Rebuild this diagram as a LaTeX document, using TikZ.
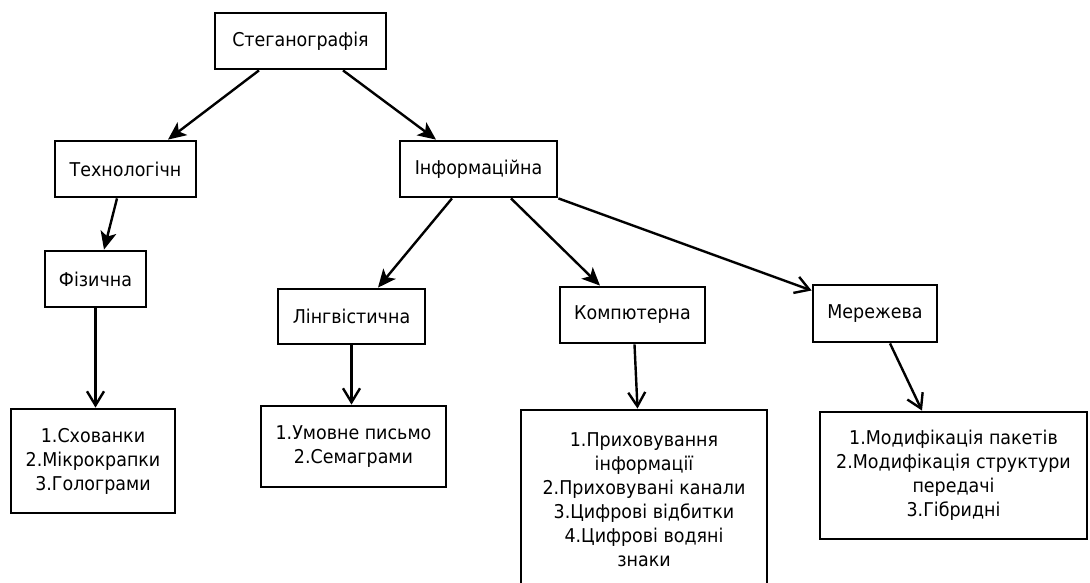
\documentclass[tikz,border=0pt]{standalone}
\usepackage{fontspec}
\setmainfont{DejaVu Sans}[FakeStretch=0.92]
\usetikzlibrary{arrows.meta,calc}

\begin{document}
\begin{tikzpicture}[x=1pt,y=-1pt,
  box/.style={draw, line width=2.8pt, inner sep=0pt, align=center,
    font=\fontsize{19pt}{24pt}\selectfont},
  link/.style={line width=2.4pt, -{Stealth[length=18pt,width=16pt,inset=4.5pt]}},
  openlink/.style={line width=2.4pt, -{Straight Barb[length=14pt,width=17pt]}}]

\useasboundingbox (0,0) rectangle (1090,583);
\clip (0,0) rectangle (1090,583);

% top level
\node[box, minimum width=171pt, minimum height=56pt] (stg) at (300.5,41) {Стеганографія};

% second level
\node[box, minimum width=141pt, minimum height=56pt] (tex) at (125.5,169) {Технологічн};
\node[box, minimum width=157pt, minimum height=56pt] (inf) at (478.5,169) {Інформаційна};

% third level
\node[box, minimum width=101pt, minimum height=56pt] (fiz) at (95.5,279) {Фізична};
\node[box, minimum width=147pt, minimum height=55pt] (lin) at (351.5,316.5) {Лінгвістична};
\node[box, minimum width=145pt, minimum height=56pt] (komp) at (632.5,315) {Компютерна};
\node[box, minimum width=124pt, minimum height=57pt] (mer) at (875,313.5) {Мережева};

% lists of methods
\node[box, minimum width=164pt, minimum height=104pt] (l1) at (93,461)
  {1.Схованки\\2.Мікрокрапки\\3.Голограми};
\node[box, minimum width=185pt, minimum height=81pt] (l2) at (353.5,446.5)
  {1.Умовне письмо\\2.Семаграми};
\node[box, minimum width=246pt, minimum height=180pt] (l3) at (644,500)
  {1.Приховування\\інформації\\2.Приховувані канали\\3.Цифрові відбитки\\4.Цифрові водяні\\знаки};
\node[box, minimum width=267pt, minimum height=127pt] (l4) at (953.5,475.5)
  {1.Модифікація пакетів\\2.Модифікація структури\\передачі\\3.Гібридні};

% connectors
\draw[link] ([xshift=-41.5pt]stg.south) -- ([xshift=42.5pt]tex.north);
\draw[link] ([xshift=42.5pt]stg.south) -- ([xshift=-42.5pt]inf.north);
\draw[link] ([xshift=-8.5pt]tex.south) -- ([xshift=8.5pt]fiz.north);
\draw[link] ([xshift=-26.5pt]inf.south) -- ([xshift=26.5pt]lin.north);
\draw[link] ([xshift=32.5pt]inf.south) -- ([xshift=-32.5pt]komp.north);
\draw[openlink] (inf.south east) -- ([yshift=23pt]mer.west);
\draw[openlink] (fiz.south) -- (fiz.south |- l1.north);
\draw[openlink] (lin.south) -- (lin.south |- l2.north);
\draw[openlink] ([xshift=2pt]komp.south) -- ([xshift=-6.5pt]l3.north);
\draw[openlink] ([xshift=15pt]mer.south) -- ([xshift=-31.5pt]l4.north);
\end{tikzpicture}
\end{document}
